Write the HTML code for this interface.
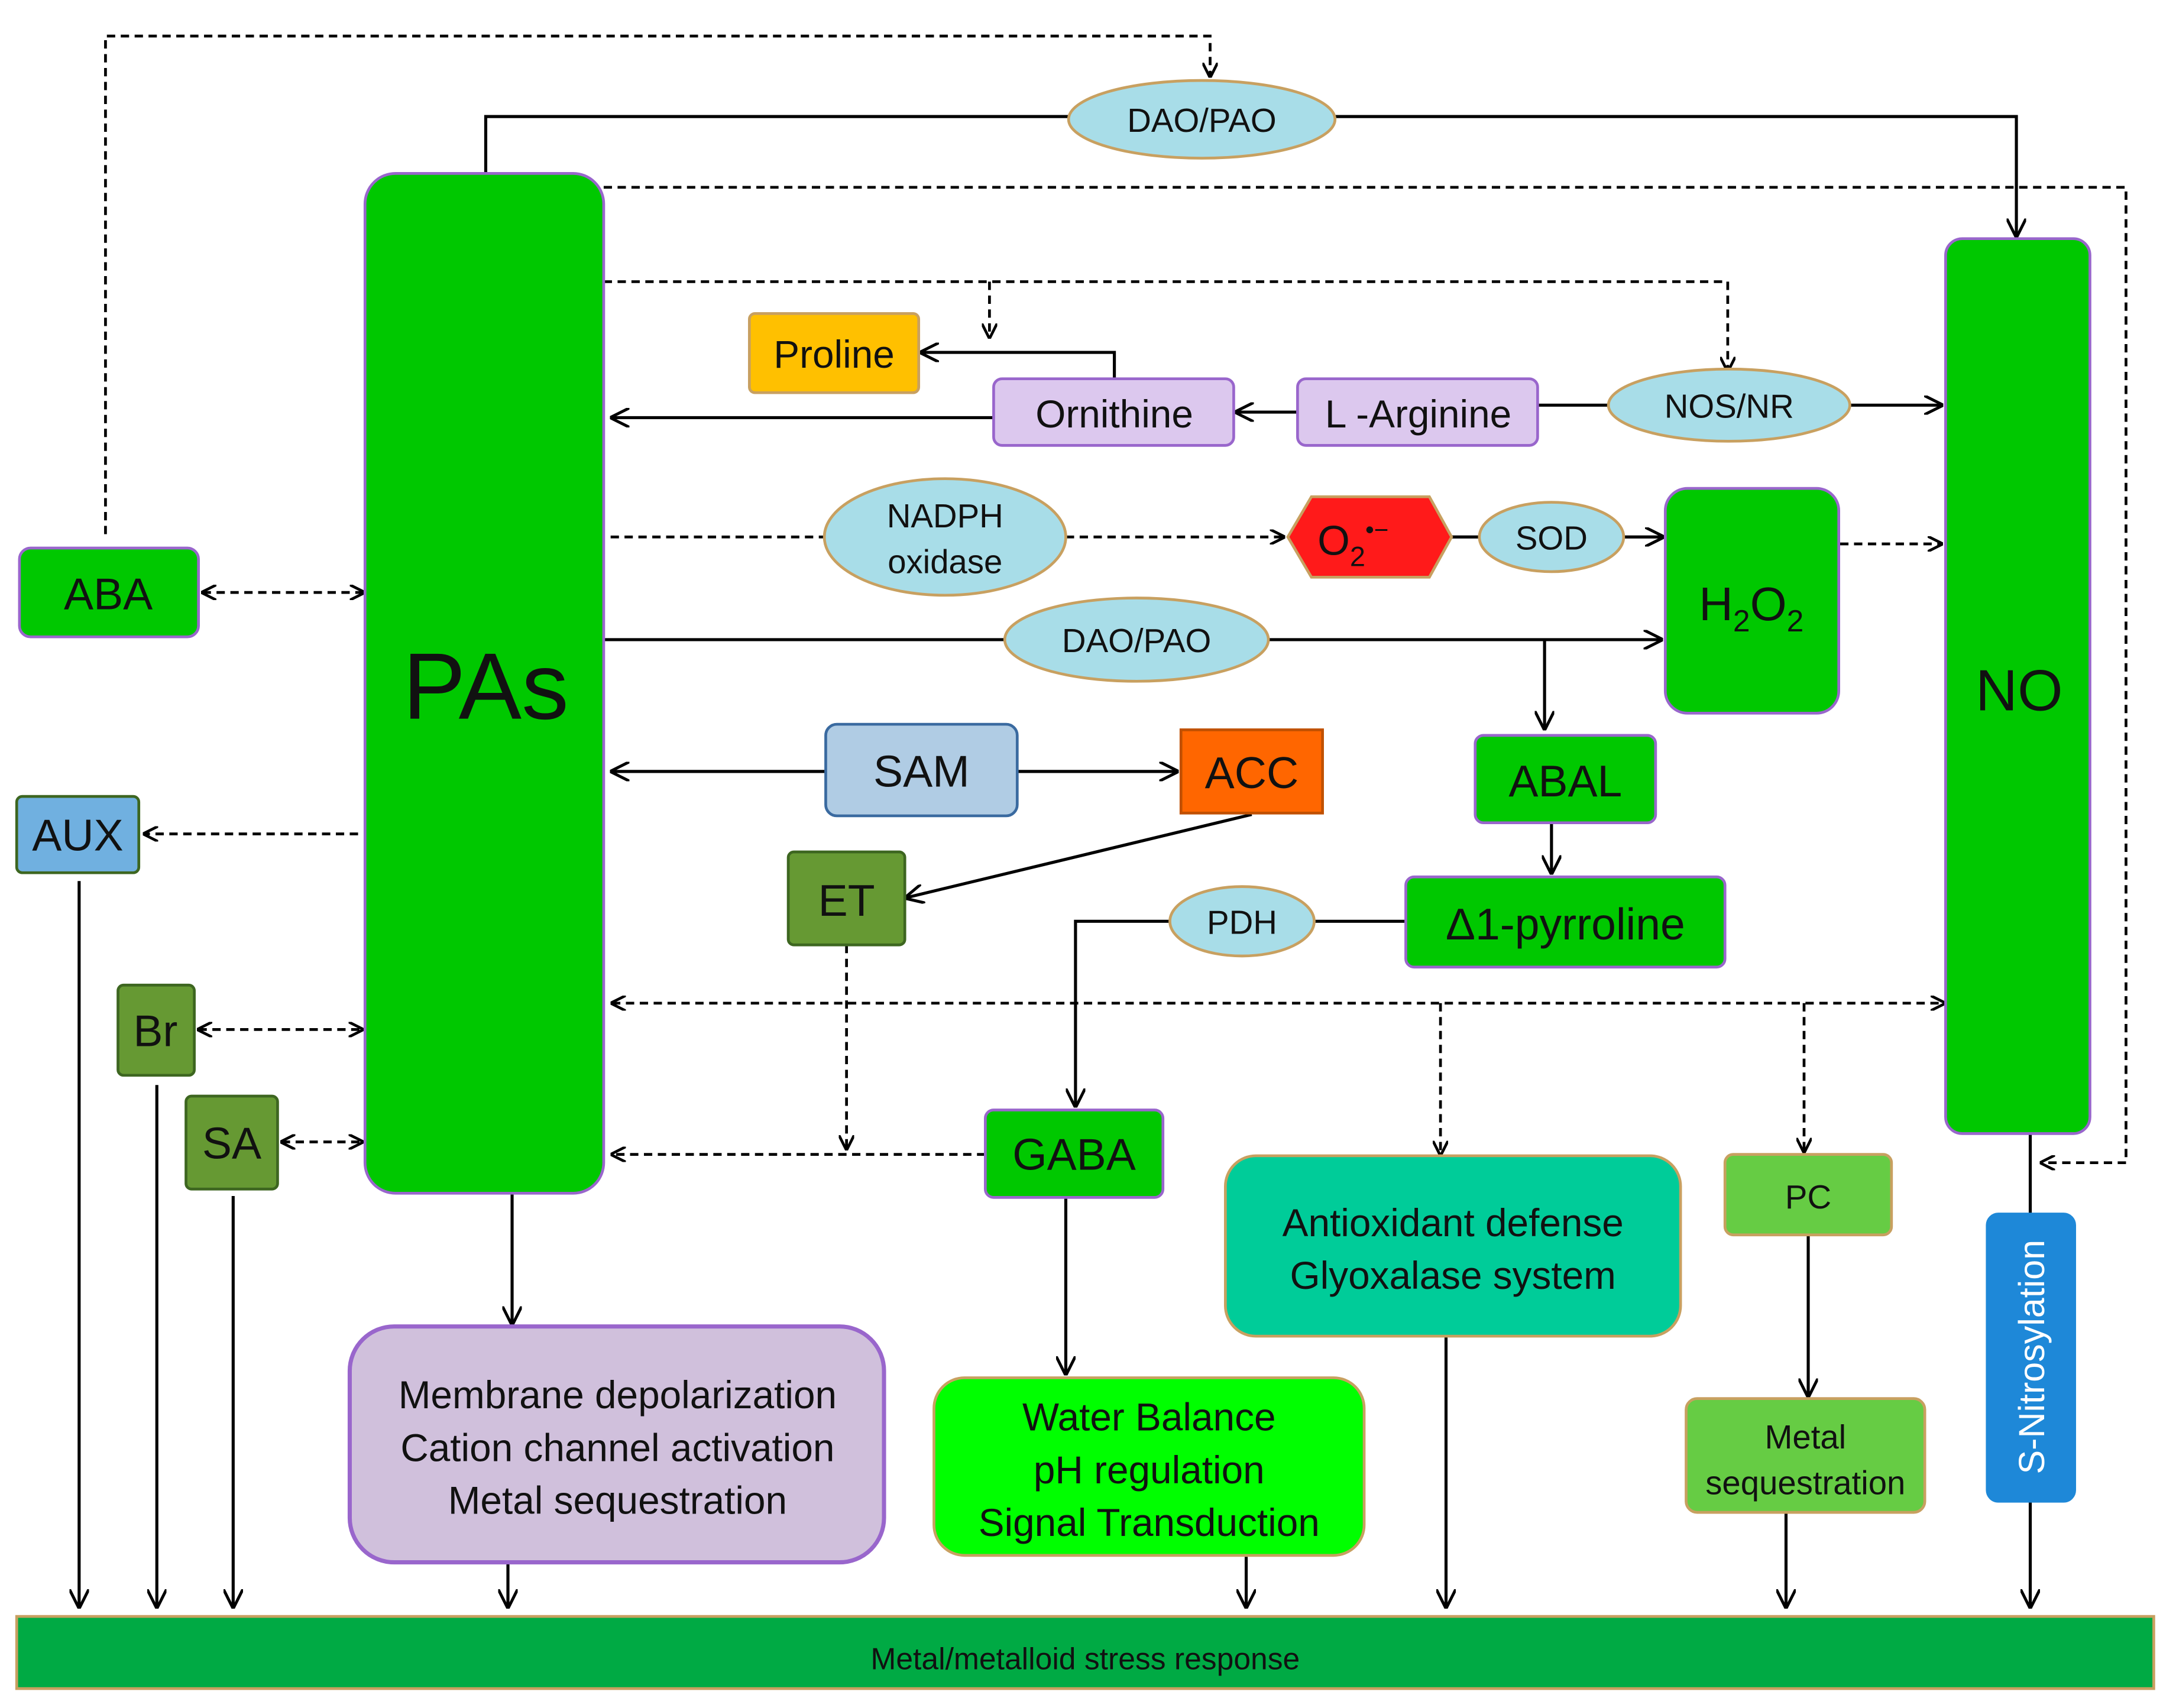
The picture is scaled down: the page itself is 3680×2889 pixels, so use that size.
<!DOCTYPE html>
<html><head><meta charset="utf-8"><style>
html,body{margin:0;padding:0;background:#fff;}
svg{display:block;}
text{font-family:"Liberation Sans",sans-serif;fill:#111;}
</style></head><body>
<svg width="3680" height="2889" viewBox="0 0 1568 1231" xmlns="http://www.w3.org/2000/svg">
<defs>
<marker id="a" viewBox="0 0 10 10" refX="9" refY="5" markerWidth="11" markerHeight="11" orient="auto-start-reverse" markerUnits="userSpaceOnUse"><path d="M0,0 L10,5 L0,10" fill="none" stroke="#000" stroke-width="1.8"/></marker>
<marker id="b" viewBox="0 0 10 10" refX="9" refY="5" markerWidth="14" markerHeight="14" orient="auto-start-reverse" markerUnits="userSpaceOnUse"><path d="M0,0 L10,5 L0,10" fill="none" stroke="#000" stroke-width="1.5"/></marker>
</defs>
<g fill="none" stroke="#000" stroke-width="2.2">
<polyline points="350,125 350,84 770,84"/>
<polyline points="962,84 1453,84 1453,170" marker-end="url(#b)"/>
<polyline points="803,273 803,254 664,254" marker-end="url(#b)"/>
<line x1="716" y1="301" x2="441" y2="301" marker-end="url(#b)"/>
<line x1="935" y1="297" x2="891" y2="297" marker-end="url(#b)"/>
<line x1="1108" y1="292" x2="1160" y2="292"/>
<line x1="1333" y1="292" x2="1399" y2="292" marker-end="url(#b)"/>
<line x1="1046" y1="387" x2="1068" y2="387"/>
<line x1="1170" y1="387" x2="1198" y2="387" marker-end="url(#b)"/>
<line x1="435" y1="461" x2="725" y2="461"/>
<line x1="914" y1="461" x2="1197" y2="461" marker-end="url(#b)"/>
<line x1="1113" y1="461" x2="1113" y2="525" marker-end="url(#b)"/>
<line x1="1118" y1="594" x2="1118" y2="629" marker-end="url(#b)"/>
<line x1="1013" y1="664" x2="946" y2="664"/>
<polyline points="843,664 775,664 775,797" marker-end="url(#b)"/>
<line x1="595" y1="556" x2="441" y2="556" marker-end="url(#b)"/>
<line x1="733" y1="556" x2="848" y2="556" marker-end="url(#b)"/>
<line x1="902" y1="587" x2="653" y2="647" marker-end="url(#b)"/>
<line x1="57" y1="635" x2="57" y2="1158" marker-end="url(#b)"/>
<line x1="113" y1="782" x2="113" y2="1158" marker-end="url(#b)"/>
<line x1="168" y1="862" x2="168" y2="1158" marker-end="url(#b)"/>
<line x1="369" y1="860" x2="369" y2="954" marker-end="url(#b)"/>
<line x1="366" y1="1127" x2="366" y2="1158" marker-end="url(#b)"/>
<line x1="768" y1="863" x2="768" y2="990" marker-end="url(#b)"/>
<line x1="898" y1="1122" x2="898" y2="1158" marker-end="url(#b)"/>
<line x1="1042" y1="963" x2="1042" y2="1158" marker-end="url(#b)"/>
<line x1="1303" y1="890" x2="1303" y2="1006" marker-end="url(#b)"/>
<line x1="1287" y1="1090" x2="1287" y2="1158" marker-end="url(#b)"/>
<line x1="1463" y1="817" x2="1463" y2="875"/>
<line x1="1463" y1="1082" x2="1463" y2="1158" marker-end="url(#b)"/>
</g>
<g fill="none" stroke="#000" stroke-width="2" stroke-dasharray="6,4">
<polyline points="76,385 76,26 872,26 872,55" marker-end="url(#a)"/>
<polyline points="435,135 1532,135 1532,838 1471,838" marker-end="url(#a)"/>
<polyline points="435,203 1245,203 1245,267" marker-end="url(#a)"/>
<polyline points="713,203 713,243" marker-end="url(#a)"/>
<line x1="440" y1="387" x2="595" y2="387"/>
<line x1="768" y1="387" x2="925" y2="387" marker-end="url(#a)"/>
<line x1="1326" y1="392" x2="1399" y2="392" marker-end="url(#a)"/>
<line x1="610" y1="681" x2="610" y2="828" marker-end="url(#a)"/>
<line x1="710" y1="832" x2="441" y2="832" marker-end="url(#a)"/>
<line x1="441" y1="723" x2="1401" y2="723" marker-start="url(#a)" marker-end="url(#a)"/>
<line x1="1038" y1="723" x2="1038" y2="832" marker-end="url(#a)"/>
<line x1="1300" y1="723" x2="1300" y2="830" marker-end="url(#a)"/>
<line x1="146" y1="427" x2="262" y2="427" marker-start="url(#a)" marker-end="url(#a)"/>
<line x1="258" y1="601" x2="104" y2="601" marker-end="url(#a)"/>
<line x1="143" y1="742" x2="261" y2="742" marker-start="url(#a)" marker-end="url(#a)"/>
<line x1="203" y1="823" x2="261" y2="823" marker-start="url(#a)" marker-end="url(#a)"/>
</g>
<g stroke-width="2">
<rect x="263" y="125" width="172" height="735" rx="22" fill="#00c800" stroke="#9966cc"/>
<rect x="1402" y="172" width="104" height="645" rx="12" fill="#00c800" stroke="#9966cc"/>
<rect x="540" y="226" width="122" height="57" rx="4" fill="#ffc000" stroke="#c8a060"/>
<rect x="716" y="273" width="173" height="48" rx="6" fill="#dcc8ee" stroke="#9966cc"/>
<rect x="935" y="273" width="173" height="48" rx="6" fill="#dcc8ee" stroke="#9966cc"/>
<polygon points="945,358 1030,358 1046,387 1030,416 945,416 928,387" fill="#ff1a1a" stroke="#c8a060"/>
<rect x="1200" y="352" width="125" height="162" rx="16" fill="#00c800" stroke="#9966cc"/>
<rect x="1063" y="530" width="130" height="63" rx="6" fill="#00c800" stroke="#9966cc"/>
<rect x="1013" y="632" width="230" height="65" rx="6" fill="#00c800" stroke="#9966cc"/>
<rect x="595" y="522" width="138" height="66" rx="8" fill="#b0cce4" stroke="#3a6aa0"/>
<rect x="851" y="526" width="102" height="60" fill="#ff6600" stroke="#c05000"/>
<rect x="568" y="614" width="84" height="67" rx="4" fill="#669933" stroke="#3d6620"/>
<rect x="710" y="800" width="128" height="63" rx="6" fill="#00c800" stroke="#9966cc"/>
<rect x="14" y="395" width="129" height="64" rx="8" fill="#00c800" stroke="#9966cc"/>
<rect x="12" y="574" width="88" height="55" rx="4" fill="#70b0e0" stroke="#3d6620"/>
<rect x="85" y="710" width="55" height="65" rx="4" fill="#669933" stroke="#3d6620"/>
<rect x="134" y="790" width="66" height="67" rx="4" fill="#669933" stroke="#3d6620"/>
<rect x="252" y="956" width="385" height="170" rx="32" fill="#d0c0dc" stroke="#9966cc" stroke-width="3"/>
<rect x="673" y="993" width="310" height="128" rx="22" fill="#00ff00" stroke="#c8a060"/>
<rect x="883" y="833" width="328" height="130" rx="22" fill="#00cc99" stroke="#c8a060"/>
<rect x="1243" y="832" width="120" height="58" rx="6" fill="#66cc44" stroke="#c8a060"/>
<rect x="1215" y="1008" width="172" height="82" rx="8" fill="#66cc44" stroke="#c8a060"/>
<rect x="1432" y="875" width="63" height="207" rx="8" fill="#1e88d8" stroke="#1e88d8"/>
<rect x="12" y="1165" width="1540" height="52" fill="#00aa44" stroke="#c8a060"/>
<ellipse cx="866" cy="86" rx="96" ry="28" fill="#a8dde8" stroke="#c8a060"/>
<ellipse cx="1246" cy="292" rx="87" ry="26" fill="#a8dde8" stroke="#c8a060"/>
<ellipse cx="681" cy="387" rx="87" ry="42" fill="#a8dde8" stroke="#c8a060"/>
<ellipse cx="1118" cy="387" rx="52" ry="25" fill="#a8dde8" stroke="#c8a060"/>
<ellipse cx="819" cy="461" rx="95" ry="30" fill="#a8dde8" stroke="#c8a060"/>
<ellipse cx="895" cy="664" rx="52" ry="25" fill="#a8dde8" stroke="#c8a060"/>
</g>
<g text-anchor="middle">
<text x="350" y="518" font-size="68">PAs</text>
<text x="1455" y="512" font-size="42">NO</text>
<text x="866" y="95" font-size="24">DAO/PAO</text>
<text x="601" y="265" font-size="28">Proline</text>
<text x="803" y="308" font-size="28">Ornithine</text>
<text x="1022" y="308" font-size="28">L -Arginine</text>
<text x="1246" y="301" font-size="24">NOS/NR</text>
<text x="681" y="380" font-size="24">NADPH</text>
<text x="681" y="413" font-size="24">oxidase</text>
<text x="975" y="400" font-size="30">O<tspan font-size="20" dy="8">2</tspan><tspan font-size="18" dy="-20">•−</tspan></text>
<text x="1118" y="396" font-size="24">SOD</text>
<text x="1262" y="447" font-size="34">H<tspan font-size="22" dy="8">2</tspan><tspan dy="-8">O</tspan><tspan font-size="22" dy="8">2</tspan></text>
<text x="819" y="470" font-size="24">DAO/PAO</text>
<text x="1128" y="574" font-size="32">ABAL</text>
<text x="1128" y="677" font-size="32">Δ1-pyrroline</text>
<text x="664" y="567" font-size="32">SAM</text>
<text x="902" y="568" font-size="32">ACC</text>
<text x="610" y="660" font-size="32">ET</text>
<text x="895" y="673" font-size="24">PDH</text>
<text x="774" y="843" font-size="32">GABA</text>
<text x="78" y="439" font-size="32">ABA</text>
<text x="56" y="613" font-size="32">AUX</text>
<text x="112" y="754" font-size="32">Br</text>
<text x="167" y="835" font-size="32">SA</text>
<text x="445" y="1015" font-size="28">Membrane depolarization</text>
<text x="445" y="1053" font-size="28">Cation channel activation</text>
<text x="445" y="1091" font-size="28">Metal sequestration</text>
<text x="828" y="1031" font-size="28">Water Balance</text>
<text x="828" y="1069" font-size="28">pH regulation</text>
<text x="828" y="1107" font-size="28">Signal Transduction</text>
<text x="1047" y="891" font-size="28">Antioxidant defense</text>
<text x="1047" y="929" font-size="28">Glyoxalase system</text>
<text x="1303" y="871" font-size="24">PC</text>
<text x="1301" y="1044" font-size="24">Metal</text>
<text x="1301" y="1077" font-size="24">sequestration</text>
<text x="1473" y="978" font-size="26" style="fill:#fff" transform="rotate(-90 1473 978)">S-Nitrosylation</text>
<text x="782" y="1203" font-size="22">Metal/metalloid stress  response</text>
</g>
</svg>
</body></html>
